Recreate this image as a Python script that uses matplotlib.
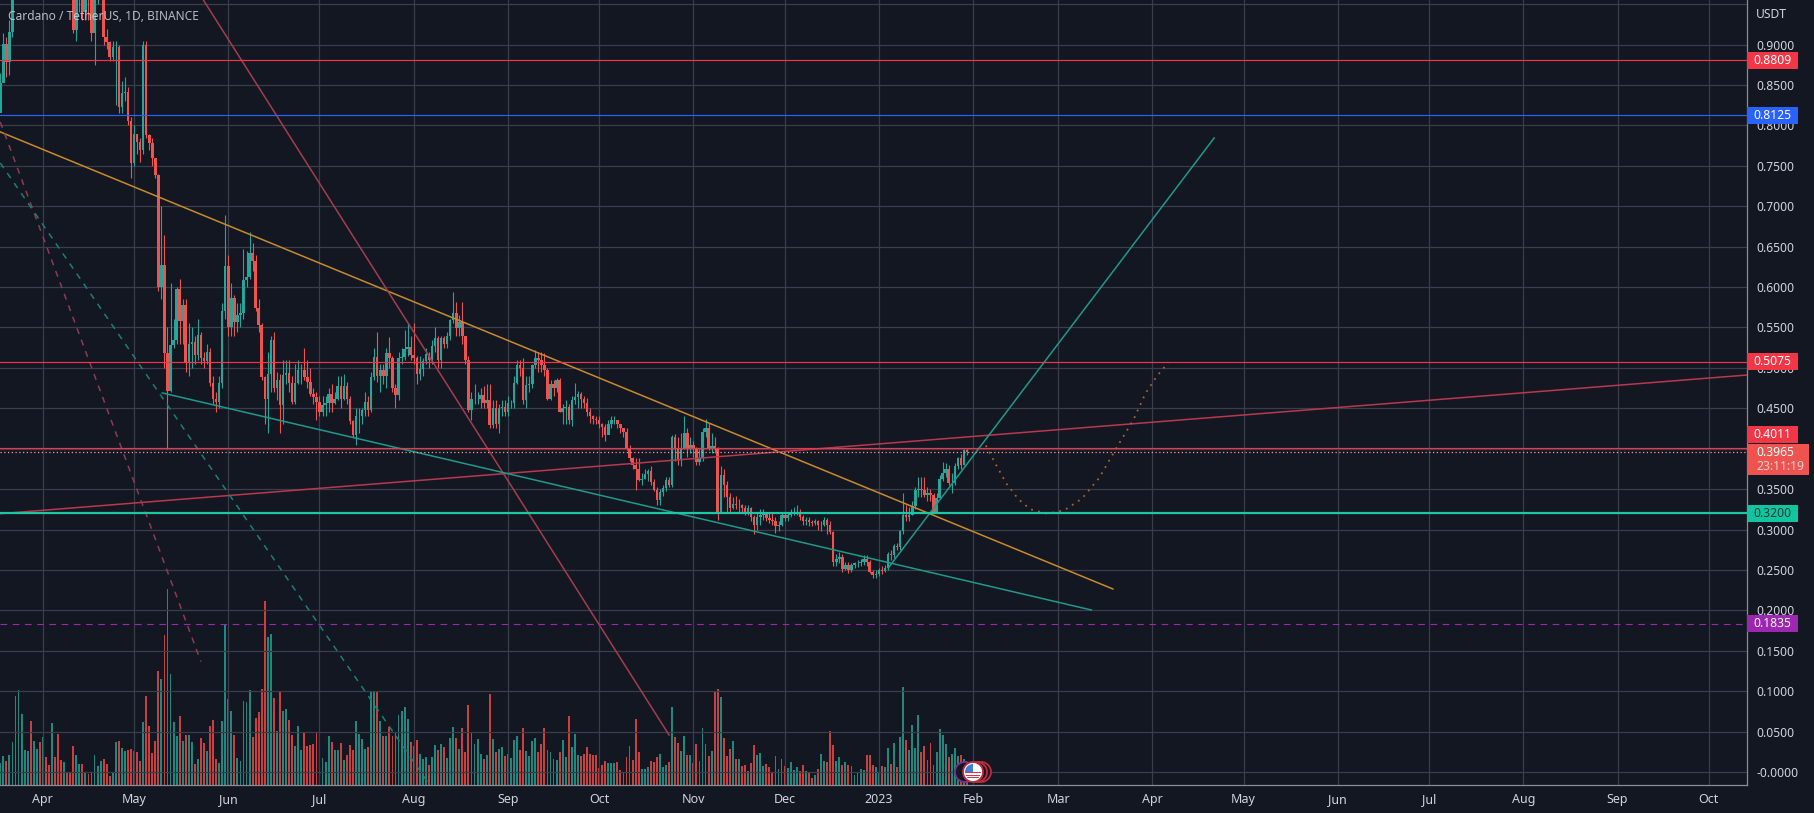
import matplotlib
matplotlib.use("Agg")
from matplotlib import pyplot as plt
from matplotlib.patches import Circle, Rectangle
import numpy as np

plt.rcParams['font.family'] = ['Noto Sans', 'DejaVu Sans']

# daily candles, index 0 = 18 Mar 2022
closes = [
    .852,.901,.879,.916,.985,1.00,1.02,1.05,1.08,1.12,
    1.09,1.13,1.17,1.16,1.21,1.17,1.13,1.13,1.09,1.05,
    1.04,1.04,1.02,.97,.918,.96,.965,.94,.97,.965,
    .914,.955,.97,.98,.91,.903,.885,.897,.897,.823,
    .84,.842,.805,.753,.79,.78,.77,.90,.788,.778,
    .76,.739,.60,.627,.518,.472,.528,.535,.598,.558,
    .578,.506,.53,.532,.516,.541,.512,.508,.52,.481,
    .462,.458,.481,.570,.626,.551,.586,.557,.565,.568,
    .609,.613,.642,.632,.574,.553,.489,.462,.493,.535,
    .475,.485,.454,.491,.494,.481,.458,.481,.497,.497,
    .489,.483,.468,.464,.458,.446,.454,.456,.468,.456,
    .462,.478,.462,.478,.462,.434,.417,.440,.441,.448,
    .458,.448,.489,.514,.490,.497,.49,.518,.512,.475,
    .466,.512,.513,.524,.526,.516,.512,.493,.499,.508,
    .517,.51,.527,.537,.51,.537,.53,.539,.559,.568,
    .549,.557,.539,.51,.448,.461,.462,.462,.466,.456,
    .46,.429,.45,.43,.45,.452,.446,.456,.456,.481,
    .504,.50,.46,.479,.48,.504,.512,.51,.504,.497,
    .462,.48,.475,.485,.446,.45,.452,.436,.46,.464,
    .468,.462,.456,.446,.44,.437,.436,.431,.427,.417,
    .43,.436,.436,.43,.425,.421,.40,.388,.38,.375,
    .361,.363,.369,.373,.359,.349,.336,.347,.351,.361,
    .355,.415,.40,.386,.40,.42,.40,.405,.40,.384,
    .388,.421,.425,.40,.403,.40,.322,.367,.355,.34,
    .326,.332,.33,.33,.326,.322,.327,.315,.305,.315,
    .318,.32,.314,.312,.311,.304,.305,.318,.314,.318,
    .321,.322,.322,.316,.31,.312,.309,.308,.31,.306,
    .306,.312,.306,.297,.26,.264,.266,.251,.256,.25,
    .256,.258,.258,.26,.264,.26,.248,.244,.245,.25,
    .249,.252,.27,.268,.279,.278,.298,.318,.316,.318,
    .329,.349,.35,.349,.343,.345,.343,.322,.339,.363,
    .37,.375,.357,.358,.378,.389,.38,.398,.3965]
highs = [
    .865,.915,.91,.93,1.0,1.01,1.04,1.07,1.10,1.15,
    1.13,1.15,1.19,1.19,1.24,1.23,1.18,1.16,1.14,1.10,
    1.07,1.06,1.05,1.03,.99,1.0,.99,.97,.99,.99,
    .97,.975,.99,1.0,.985,.92,.905,.905,.905,.90,
    .855,.86,.848,.81,.80,.79,.785,.905,.905,.79,
    .785,.76,.74,.70,.665,.55,.605,.56,.60,.61,
    .585,.585,.555,.55,.54,.56,.545,.52,.53,.525,
    .49,.47,.49,.58,.689,.64,.605,.59,.58,.58,
    .647,.645,.668,.655,.64,.585,.555,.49,.52,.54,
    .545,.495,.493,.51,.51,.51,.49,.505,.51,.505,
    .525,.51,.50,.475,.47,.465,.465,.465,.475,.48,
    .47,.49,.49,.492,.482,.465,.435,.45,.45,.45,
    .47,.465,.495,.525,.545,.505,.505,.525,.538,.515,
    .48,.52,.525,.547,.555,.54,.555,.515,.515,.512,
    .525,.52,.535,.55,.54,.54,.54,.545,.56,.594,
    .582,.565,.582,.54,.515,.47,.48,.47,.475,.477,
    .48,.48,.46,.46,.455,.46,.46,.465,.46,.49,
    .51,.51,.512,.49,.49,.505,.522,.52,.52,.518,
    .50,.485,.485,.487,.488,.455,.46,.455,.465,.481,
    .472,.47,.465,.463,.45,.442,.44,.44,.432,.43,
    .435,.44,.44,.435,.43,.425,.425,.405,.39,.388,
    .388,.37,.375,.375,.378,.362,.352,.35,.355,.365,
    .365,.417,.418,.415,.42,.44,.425,.415,.41,.402,
    .40,.425,.437,.432,.42,.415,.402,.378,.375,.36,
    .345,.34,.342,.338,.332,.33,.33,.328,.318,.32,
    .325,.325,.322,.322,.32,.315,.31,.32,.322,.322,
    .325,.328,.33,.325,.318,.316,.315,.312,.313,.312,
    .31,.316,.314,.31,.298,.27,.272,.27,.26,.26,
    .258,.26,.262,.264,.268,.268,.262,.25,.25,.252,
    .255,.256,.272,.275,.282,.283,.30,.345,.33,.328,
    .335,.352,.365,.365,.365,.352,.35,.345,.345,.368,
    .384,.382,.38,.37,.382,.39,.394,.40,.40]
lows = [
    .82,.862,.86,.862,.91,.985,1.0,1.03,1.05,1.07,
    1.07,1.08,1.12,1.13,1.15,1.15,1.11,1.09,1.06,1.02,
    1.02,1.01,.99,.96,.915,.905,.94,.93,.93,.93,
    .905,.875,.95,.965,.90,.895,.88,.88,.825,.815,
    .815,.83,.80,.735,.75,.765,.755,.765,.785,.77,
    .75,.735,.595,.585,.50,.40,.47,.525,.53,.53,
    .53,.495,.49,.50,.505,.51,.505,.50,.505,.478,
    .455,.445,.45,.475,.56,.54,.54,.54,.545,.55,
    .56,.60,.61,.62,.57,.545,.485,.43,.42,.47,
    .47,.46,.42,.43,.48,.47,.455,.455,.48,.48,
    .485,.475,.465,.455,.435,.44,.44,.44,.445,.445,
    .455,.46,.45,.46,.455,.43,.415,.405,.42,.43,
    .44,.44,.445,.485,.483,.47,.48,.475,.50,.47,
    .45,.46,.505,.51,.515,.51,.505,.48,.485,.49,
    .505,.50,.505,.52,.50,.50,.525,.525,.535,.555,
    .54,.54,.53,.505,.445,.435,.455,.455,.45,.45,
    .45,.425,.425,.425,.42,.44,.44,.44,.45,.45,
    .48,.49,.455,.45,.47,.475,.50,.495,.495,.49,
    .46,.46,.465,.47,.445,.43,.43,.43,.428,.455,
    .45,.45,.45,.44,.432,.43,.43,.425,.415,.41,
    .42,.425,.43,.425,.42,.415,.398,.385,.375,.349,
    .36,.355,.362,.36,.355,.348,.33,.33,.342,.348,
    .352,.352,.385,.38,.378,.40,.39,.395,.39,.38,
    .38,.385,.415,.398,.395,.395,.312,.32,.34,.32,
    .322,.325,.325,.322,.32,.318,.318,.31,.295,.30,
    .305,.312,.31,.308,.305,.296,.298,.304,.31,.31,
    .316,.318,.318,.312,.305,.305,.304,.304,.306,.30,
    .298,.304,.295,.295,.255,.255,.258,.248,.25,.246,
    .248,.252,.254,.255,.256,.255,.246,.24,.24,.243,
    .245,.248,.25,.262,.265,.275,.275,.295,.31,.31,
    .318,.325,.34,.34,.34,.335,.335,.32,.32,.338,
    .36,.365,.355,.345,.355,.375,.375,.38,.392]
first_open = .815

volumes = [
    66,86,71,89,128,266,286,214,106,101,
    193,133,109,130,143,83,61,186,83,154,
    76,68,39,39,118,89,64,64,36,34,
    36,89,58,73,79,64,28,40,129,131,
    111,101,104,108,103,98,73,188,266,178,
    96,131,343,319,451,589,334,188,146,206,
    133,151,151,130,64,79,140,126,101,178,
    196,79,66,191,481,258,223,151,81,73,
    251,248,286,143,201,220,289,551,443,454,
    261,163,281,223,228,196,151,118,178,106,
    158,118,120,123,159,136,81,69,146,128,
    104,106,126,76,89,121,104,192,154,139,
    108,114,281,283,283,191,148,148,173,148,
    156,211,223,235,199,130,118,136,93,79,
    84,61,84,121,106,123,113,81,141,174,
    141,109,171,99,241,158,123,139,93,78,
    90,274,139,98,108,114,88,94,81,136,
    148,106,171,101,86,133,141,98,124,171,
    104,99,79,76,98,136,83,208,114,153,
    91,86,93,113,94,91,91,51,60,73,
    66,67,67,68,46,39,83,118,76,198,
    100,49,49,53,71,69,84,94,54,61,
    69,233,144,126,101,148,89,91,66,124,
    71,171,124,86,103,279,288,264,141,88,
    108,133,79,79,58,61,41,66,121,91,
    96,58,64,54,39,88,48,79,56,51,
    68,46,54,43,61,43,38,21,31,48,
    94,71,68,161,121,71,83,61,69,60,
    58,29,36,48,46,89,91,61,53,39,
    58,54,111,64,126,54,144,294,136,106,
    181,111,211,99,118,76,126,61,98,168,
    151,123,84,94,111,86,91,78,56]

month_pos = [14, 44, 75, 105, 136, 167, 197, 228, 258, 289, 320, 348, 379, 409, 440, 470, 501, 532, 562]
month_names = ['Apr', 'May', 'Jun', 'Jul', 'Aug', 'Sep', 'Oct', 'Nov', 'Dec', '2023', 'Feb',
               'Mar', 'Apr', 'May', 'Jun', 'Jul', 'Aug', 'Sep', 'Oct']
price_ticks = [.90, .85, .80, .75, .70, .65, .60, .55, .50, .45, .40, .35, .30, .25, .20, .15, .10, .05, 0]
price_grid = [.95] + price_ticks

# drawings: (bar index, price)
orange_trend = ([0, 366], [.792, .2264])
red_steep = ([66.8, 220], [.9553, .0457])
red_shallow = ([0, 574.7], [.3196, .4912])
green_lower = ([53.3, 358.9], [.469, .2004])
green_rise = ([292.1, 399.3], [.2524, .7845])
red_dashed = ([0, 66], [.8043, .1364])
green_dashed = ([0, 140.8], [.7536, -.0137])
arc_x = [324.2, 327.2, 331, 334.8, 338.7, 344.4, 350, 355.8, 361.5, 367.2, 372.9, 376.7, 380.5, 384.3]
arc_y = [.404, .3825, .3567, .3381, .3252, .3195, .3238, .3381, .3639, .4011, .4369, .4684, .4899, .5071]

# horizontal levels: price, colour, line width, line style, box text colour, box shift in px
levels = [(.8809, '#f23645', .85, '-', 'white', 0),
          (.8125, '#2962ff', .85, '-', 'white', 0),
          (.5075, '#f23645', .85, '-', 'white', 0),
          (.4011, '#f23645', .85, '-', 'white', -13),
          (.3200, '#1cc8a4', 1.6, '-', '#0b3b34', 0),
          (.1835, '#9c27b0', 0.8, (0, (6, 5)), 'white', 0)]

UP = '#26a69a'
DOWN = '#ef5350'
BG = '#131722'
GRID = '#3a3e4b'
AXIS = '#8a8d96'
TEXT = '#d1d4dc'

W, H = 1814, 813
fig = plt.figure(figsize=(W / 100, H / 100), dpi=100, facecolor=BG)
rect = [0, (H - 785) / H, 1747 / W, 785 / H]

# volume sits in its own axes below the price
ax_vol = fig.add_axes(rect, facecolor=BG, zorder=1)
ax = fig.add_axes(rect, facecolor='none', zorder=2)
ax_top = fig.add_axes([0, 0, 1, 1], facecolor='none', zorder=3)
ax_top.set_xlim(0, W)
ax_top.set_ylim(H, 0)
ax_top.axis('off')

xlim = (-.1, 574.6)
ax.set_xlim(xlim)
ax.set_ylim(-.0162, .9553)
ax_vol.set_xlim(xlim)
ax_vol.set_ylim(0, 2355)
ax_vol.axis('off')

idx = np.arange(len(closes))
closes = np.array(closes)
opens = np.r_[first_open, closes[:-1]]
up = closes >= opens
colors = np.where(up, UP, DOWN)

ax_vol.bar(idx, volumes, width=.62, color=[('#22887f' if u else '#c9403f') for u in up], linewidth=0)

for y in price_grid:
    ax.axhline(y, color=GRID, lw=.9, zorder=0)
for x in month_pos:
    ax.axvline(x, color=GRID, lw=.9, zorder=0)

ax.vlines(idx, lows, highs, colors=colors, lw=.8, zorder=2)
ax.bar(idx, np.abs(closes - opens), bottom=np.minimum(opens, closes), width=.82,
       color=colors, linewidth=0, zorder=3)

ax.plot(*orange_trend, color='#c98a2b', lw=1.1, zorder=4)
ax.plot(*red_steep, color='#a33d4f', lw=1.1, zorder=4)
ax.plot(*red_shallow, color='#b8394f', lw=1.1, zorder=4)
ax.plot(*green_lower, color='#1e9a8d', lw=1.1, zorder=4)
ax.plot(*green_rise, color='#1e9a8d', lw=1.1, zorder=4)
ax.plot(*red_dashed, color='#8f3a50', lw=1.1, ls=(0, (4, 4)), zorder=4)
ax.plot(*green_dashed, color='#1b7f77', lw=1.1, ls=(0, (4, 4)), zorder=4)
ax.plot(arc_x, arc_y, color='#b0622c', lw=1.3, ls=(0, (1, 3)), zorder=4)

for price, col, lw, ls, tc, shift in levels:
    ax.axhline(price, color=col, lw=lw, ls=ls, zorder=5)
ax.axhline(closes[-1], color='#e8a0a0', lw=.9, ls=(0, (1, 2)), zorder=5)

ax.set_xticks(month_pos)
ax.set_xticklabels(month_names, fontsize=9, color=TEXT)
ax.get_xticklabels()[9].set_fontweight('bold')
ax.set_yticks(price_ticks)
ax.set_yticklabels(['%.4f' % p if p else '-0.0000' for p in price_ticks], fontsize=8.7, color=TEXT)
ax.yaxis.tick_right()
ax.tick_params(axis='x', length=0, pad=6)
ax.tick_params(axis='y', length=0, pad=6.5)
for side in ['left', 'top']:
    ax.spines[side].set_visible(False)
for side in ['right', 'bottom']:
    ax.spines[side].set_color(AXIS)
    ax.spines[side].set_linewidth(.9)

ax_top.text(8, 16, 'Cardano / TetherUS, 1D, BINANCE', color='#c9ccd4', fontsize=8.6, va='center', alpha=.9)
ax_top.text(1756, 14, 'USDT', color=TEXT, fontsize=8.7, va='center')


def y_px(p):
    return H - ax.transData.transform((0, p))[1]


for price, col, lw, ls, tc, shift in levels:
    y = y_px(price) + shift
    ax_top.add_patch(Rectangle((1747, y - 8.5), 51, 17, color=col if col != '#1cc8a4' else '#12c49f', lw=0))
    ax_top.text(1772.5, y, '%.4f' % price, color=tc, fontsize=8.7, ha='center', va='center')

# last price box with the countdown
ax_top.add_patch(Rectangle((1747, 444), 62, 31, color='#ef5350', lw=0))
ax_top.text(1756, 452.5, '0.3965', color='white', fontsize=8.7, va='center')
ax_top.text(1756, 466.5, '23:11:19', color='#ffd0cc', fontsize=8.7, va='center')

# the small flag badge at the latest bar
for cx, ec in [(965, '#7a2f8f'), (981, '#c22a3c'), (977, '#c22a3c'), (973, '#c22a3c')]:
    ax_top.add_patch(Circle((cx, 772), 10, fc=BG if cx != 973 else 'white', ec=ec, lw=1.3))
clip = Circle((973, 772), 8, transform=ax_top.transData)
for k in range(4):
    stripe = Rectangle((964, 772 + k * 2.5), 18, 1.4, color='#d8303f', lw=0)
    ax_top.add_patch(stripe)
    stripe.set_clip_path(clip)
canton = Rectangle((964, 764), 9, 8, color='#3f7fd8', lw=0)
ax_top.add_patch(canton)
canton.set_clip_path(clip)

fig.savefig('out.png', dpi=100, facecolor=BG)
